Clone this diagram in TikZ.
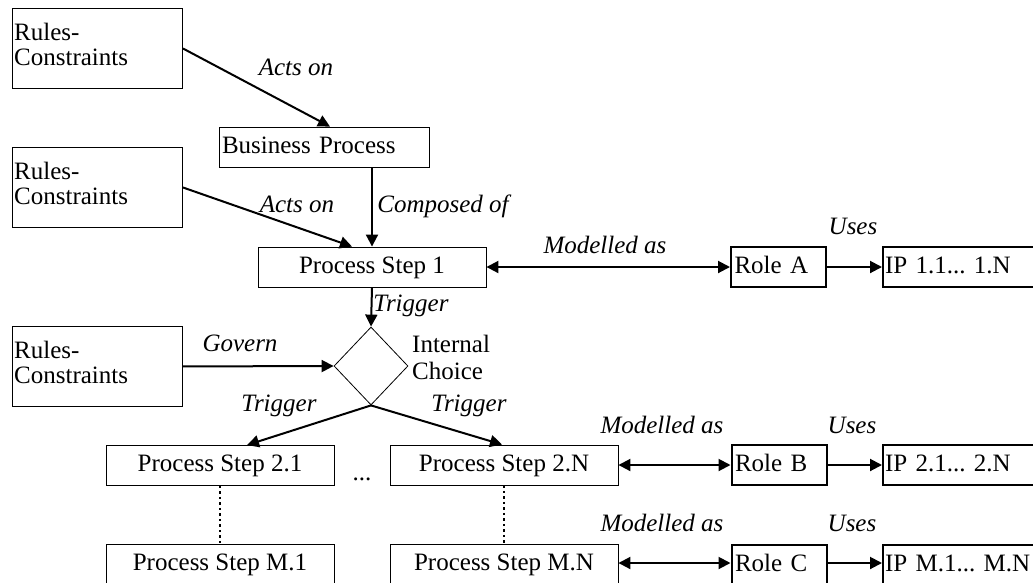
\documentclass[tikz,border=0pt]{standalone}
\usepackage{fontspec}
\setmainfont{Liberation Serif}
\usetikzlibrary{shapes.geometric,arrows.meta,calc}
\frenchspacing
\begin{document}
\frenchspacing
\begin{tikzpicture}[x=1pt,y=-1pt,
  every node/.style={font=\fontsize{25}{25}\selectfont},
  rbox/.style={draw,line width=0.9pt,anchor=north west,minimum width=170pt,minimum height=80pt,inner sep=0},
  rtext/.style={anchor=north west,align=left,inner sep=0},
  thinbox/.style={draw,line width=0.9pt,inner ysep=0,minimum height=40pt,text height=17pt,text depth=5pt},
  psbox/.style={thinbox,minimum width=228pt,inner xsep=0},
  rolebox/.style={draw,line width=2pt,inner ysep=0,inner xsep=3.5pt,minimum height=40pt,text width=88pt,align=left,text height=17pt,text depth=5pt},
  ipbox/.style={draw,line width=2pt,inner ysep=0,inner xsep=2pt,minimum height=40pt,text width=153pt,align=left,text height=17pt,text depth=5pt},
  lbl/.style={font=\fontsize{25}{25}\selectfont\itshape,inner sep=0},
  arr/.style={line width=2pt,-{Triangle[length=12pt,width=12pt]}},
  darr/.style={line width=2pt,{Triangle[length=12pt,width=12pt]}-{Triangle[length=12pt,width=12pt]}},
  dotline/.style={line width=2pt,dash pattern=on 2.5pt off 3pt}
]
\useasboundingbox (0,0) rectangle (1033,582);

% Rules boxes
\node[rbox] (r1) at (12,8) {};
\node[rtext] (r1t) at (14,23) {Rules-\\Constraints};
\node[rbox] (r2) at (12,147) {};
\node[rtext] (r2t) at (14,162) {Rules-\\Constraints};
\node[rbox] (r3) at (12,326) {};
\node[rtext] (r3t) at (14,341) {Rules-\\Constraints};

% Business process
\node[thinbox,inner xsep=3pt,text width=204pt,align=left] (bp) at (324,147) {Business Process};

% Process steps
\node[psbox] (ps1) at (372,267) {Process Step 1};
\node[psbox] (ps21) at (220,465.5) {Process Step 2.1};
\node[psbox] (ps2n) at (504,465) {Process Step 2.N};
\node[psbox] (psm1) at (220,564) {Process Step M.1};
\node[psbox] (psmn) at (504,564) {Process Step M.N};
\node (dots) at (362,480) [anchor=base,inner sep=0] {...};

% Diamond
\node[diamond,draw,line width=0.8pt,minimum width=74pt,minimum height=78pt,inner sep=0] (d) at (371,366) {};
\node[anchor=north west,align=left,inner sep=0,font=\fontsize{25}{27}\selectfont] (ic) at (412,335) {Internal\\Choice};

% Roles and IPs
\node[rolebox] (ra) at (778.5,267) {Role A};
\node[rolebox] (rb) at (779,465) {Role B};
\node[rolebox] (rc) at (779,565) {Role C};
\node[ipbox] (ia) at (961.5,267) {IP 1.1... 1.N};
\node[ipbox] (ib) at (961.5,465) {IP 2.1... 2.N};
\node[ipbox] (ic2) at (961.5,565) {IP M.1... M.N};

% Connectors
\draw[arr] (r1.east) -- ($(bp.north)+(6,0)$);
\draw[arr] (r2.east) -- ($(ps1.north)+(-20,0)$);
\draw[arr] (bp.south -| ps1.north) -- (ps1.north);
\draw[arr] (ps1.south) -- (d.north);
\draw[arr] (r3.east) -- (d.west);
\draw[arr] (d.south) -- ($(ps21.north)+(27,0)$);
\draw[arr] (d.south) -- ($(ps2n.north)+(-2,0)$);
\draw[dotline] (ps21.south) -- (psm1.north);
\draw[dotline] (ps2n.south) -- (psmn.north);

\draw[darr] (ps1.east) -- (ps1.east -| ra.west);
\draw[darr] (ps2n.east) -- (ps2n.east -| rb.west);
\draw[darr] ($(psmn.east)+(0,-1)$) -- ($(psmn.east -| rc.west)+(0,-1)$);
\draw[arr] (ra.east) -- (ra.east -| ia.west);
\draw[arr] (rb.east) -- (rb.east -| ib.west);
\draw[arr] ($(rc.east)+(0,-2)$) -- ($(rc.east -| ic2.west)+(0,-2)$);

% Labels
\node[lbl] (l1) at (296,67) {Acts on};
\node[lbl] (l2) at (297,204) {Acts on};
\node[lbl] (l3) at (443,206) {Composed of};
\node[lbl] (l4) at (411,306) {Trigger};
\node[lbl] (l5) at (240,343) {Govern};
\node[lbl] (l6) at (279,406) {Trigger};
\node[lbl] (l7) at (469,406) {Trigger};
\node[lbl] (l8) at (605,245) {Modelled as};
\node[lbl] (l9) at (853,226) {Uses};
\node[lbl] (l10) at (662,425) {Modelled as};
\node[lbl] (l11) at (852,425) {Uses};
\node[lbl] (l12) at (662,523) {Modelled as};
\node[lbl] (l13) at (852,523) {Uses};
\end{tikzpicture}
\end{document}
